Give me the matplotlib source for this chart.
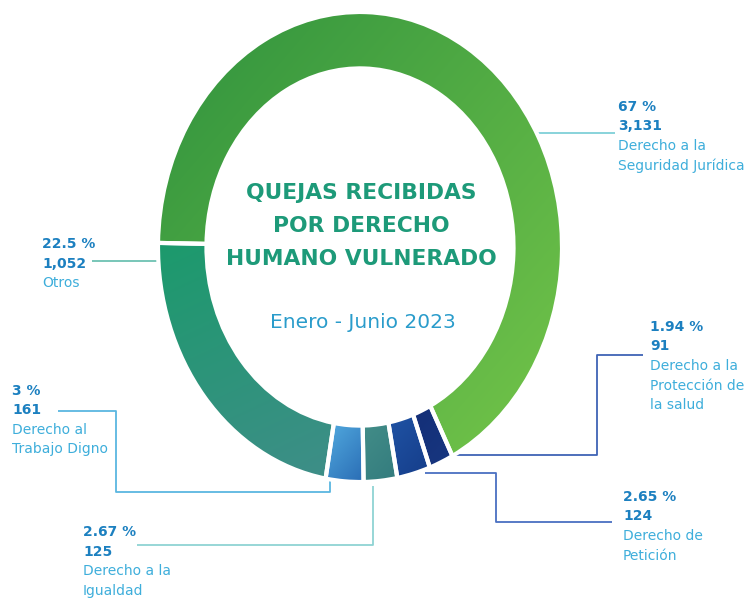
import matplotlib
matplotlib.use("Agg")
import matplotlib.pyplot as plt
import numpy as np
from matplotlib.colors import LinearSegmentedColormap

# ---------------- data ----------------
categories = ["Derecho a la\nSeguridad Jurídica", "Derecho a la\nProtección de\nla salud",
              "Derecho de\nPetición", "Derecho a la\nIgualdad", "Derecho al\nTrabajo Digno", "Otros"]
percentages = [67, 1.94, 2.65, 2.67, 3, 22.5]
pct_labels = ["67 %", "1.94 %", "2.65 %", "2.67 %", "3 %", "22.5 %"]
count_labels = ["3,131", "91", "124", "125", "161", "1,052"]

title_lines = ["QUEJAS RECIBIDAS", "POR DERECHO", "HUMANO VULNERADO"]
subtitle = "Enero - Junio 2023"

# ---------------- style ----------------
grad_colors = [("#3a9a40", "#6cbf48"),   # Seguridad
               ("#142f78", "#17367f"),   # Protección
               ("#1f52a3", "#163f8c"),   # Petición
               ("#428d88", "#347c7e"),   # Igualdad
               ("#4fa6dc", "#2a6db5"),   # Trabajo
               ("#1c9a6c", "#3e8e88")]   # Otros
grad_dirs = [(1, -1), (1, -1), (1, -1), (1, -1), (1, -1), (0.4, -1)]

FONT = "DejaVu Sans"
W, H = 747, 598
fig = plt.figure(figsize=(W / 100, H / 100), dpi=100)
fig.patch.set_facecolor("white")

# ring bounding box in pixels (elliptical ring)
left_px, right_px, top_px, bot_px = 158, 562, 12, 482
ax = fig.add_axes([left_px / W, 1 - bot_px / H, (right_px - left_px) / W, (bot_px - top_px) / H])
wedges, _ = ax.pie(percentages, startangle=179, counterclock=False, radius=1.0,
                   wedgeprops=dict(width=0.24))
ax.set_aspect("auto")
ax.set_xlim(-1, 1)
ax.set_ylim(-1, 1)
ax.axis("off")

yy, xx = np.mgrid[1:-1:300j, -1:1:300j]
for w, (c0, c1), (dx, dy) in zip(wedges, grad_colors, grad_dirs):
    th1, th2 = np.deg2rad(w.theta1), np.deg2rad(w.theta2)
    ths = np.linspace(th1, th2, 50)
    px = np.concatenate([np.cos(ths), 0.76 * np.cos(ths)])
    py = np.concatenate([np.sin(ths), 0.76 * np.sin(ths)])
    proj = px * dx + py * dy
    g = (xx * dx + yy * dy - proj.min()) / max(proj.max() - proj.min(), 1e-6)
    cmap = LinearSegmentedColormap.from_list("g", [c0, c1])
    im = ax.imshow(np.clip(g, 0, 1), cmap=cmap, vmin=0, vmax=1, extent=(-1, 1, -1, 1),
                   aspect="auto", zorder=1, interpolation="bilinear")
    im.set_clip_path(w)
    w.set_facecolor("none")
    w.set_edgecolor("white")
    w.set_linewidth(3)
    w.set_zorder(2)

# ---------------- overlay in pixel coordinates ----------------
ov = fig.add_axes([0, 0, 1, 1], zorder=-1)
ov.set_xlim(0, W)
ov.set_ylim(H, 0)
ov.axis("off")

dark_txt = "#1c80c0"
light_txt = "#3eaedb"

leader_paths = [
    ([535, 615], [133, 133]),                       # Seguridad
    ([455, 597, 597, 643], [455, 455, 355, 355]),   # Protección
    ([425, 496, 496, 612], [473, 473, 522, 522]),   # Petición
    ([373, 373, 137], [486, 545, 545]),             # Igualdad
    ([330, 330, 116, 116, 58], [480, 492, 492, 411, 411]),  # Trabajo
    ([92, 162], [261, 261]),                        # Otros
]
leader_colors = ["#7fd0d8", "#3f63b5", "#4a70c2", "#8fd3d3", "#5ab6e0", "#6dc2b2"]
label_xy = [(618, 107), (650, 327), (623, 497), (83, 532), (12, 391), (42, 244)]
line_h = 19.5

for path, lc in zip(leader_paths, leader_colors):
    ov.plot(path[0], path[1], color=lc, lw=1.3, solid_capstyle="butt")

for (x, y), p, c, name in zip(label_xy, pct_labels, count_labels, categories):
    ov.text(x, y, p, fontsize=10, fontweight="bold", color=dark_txt, family=FONT,
            ha="left", va="center")
    ov.text(x, y + line_h, c, fontsize=10, fontweight="bold", color=dark_txt, family=FONT,
            ha="left", va="center")
    for i, ln in enumerate(name.split("\n")):
        ov.text(x, y + line_h * (2 + i), ln, fontsize=10, color=light_txt, family=FONT,
                ha="left", va="center")

title_color = "#1d9a79"
for i, t in enumerate(title_lines):
    fig.text(361 / W, 1 - (193 + 33 * i) / H, t, fontsize=15.7, fontweight="bold",
             color=title_color, family=FONT, ha="center", va="center")
fig.text(363 / W, 1 - 323 / H, subtitle, fontsize=14.5, color="#2a9ccb", family=FONT,
         ha="center", va="center")

fig.savefig("out.png", dpi=100, facecolor="white")
